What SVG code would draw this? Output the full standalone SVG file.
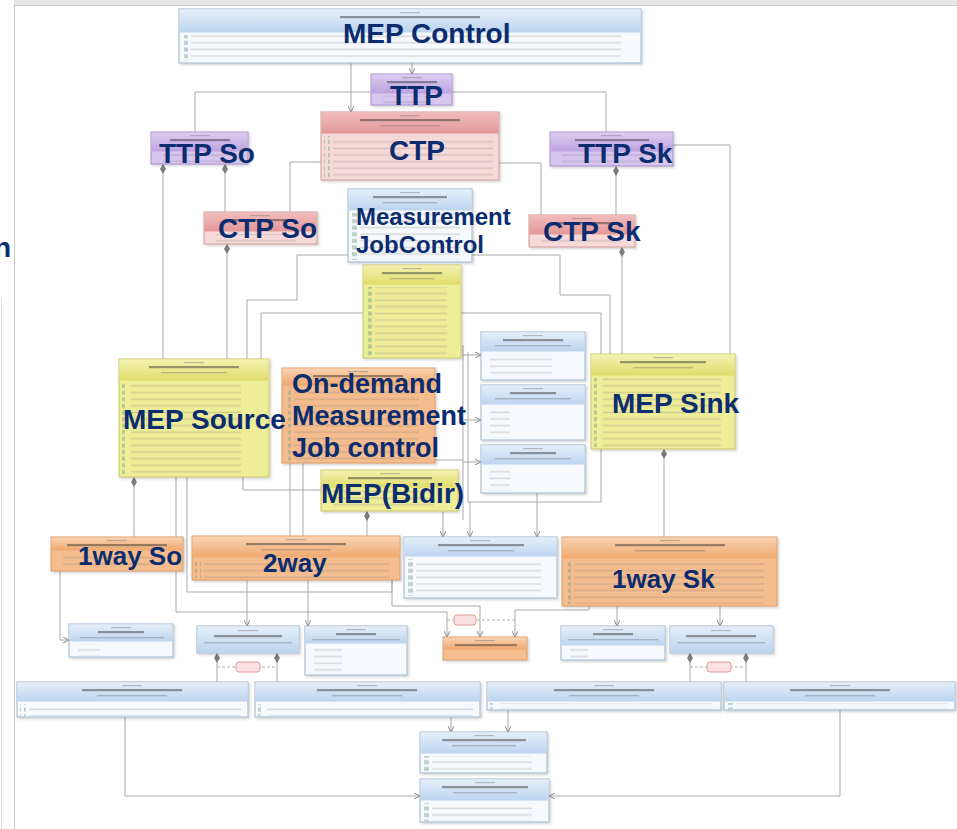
<svg xmlns="http://www.w3.org/2000/svg" width="957" height="829" viewBox="0 0 957 829">
<defs>
<style>
.lbl{font-family:"Liberation Sans",Arial,sans-serif;font-weight:bold;font-size:28px;fill:#0b2c6e}
.con{fill:none;stroke:#a9a9a9;stroke-width:1}
.dash{fill:none;stroke:#b0b0b0;stroke-width:1;stroke-dasharray:3 2}
.blue{fill:#f6f9fd;stroke:#9db3cc}
.purple{fill:#d6c5ee;stroke:#a58cc8}
.pink{fill:#f6dada;stroke:#cf9a9a}
.yellow{fill:#eeed98;stroke:#c9c56a}
.orange{fill:#f5bd8e;stroke:#d99a66}
.st{fill:#7a7a7a;opacity:.45}
.nm{fill:#2a2a2a;opacity:.45}
.fr{fill:#666;opacity:.35}
.tag{fill:#fbe1e1;stroke:#e59a9a}
#nodes rect:first-child{filter:url(#sh)}
</style>
<filter id="sh" x="-5%" y="-5%" width="115%" height="125%"><feDropShadow dx="1.5" dy="1.5" stdDeviation="1" flood-color="#000" flood-opacity=".18"/></filter>
<linearGradient id="gBlue" x1="0" y1="0" x2="0" y2="1"><stop offset="0" stop-color="#e4effa"/><stop offset="1" stop-color="#bcd4ee"/></linearGradient>
<linearGradient id="gPurple" x1="0" y1="0" x2="0" y2="1"><stop offset="0" stop-color="#dccdf0"/><stop offset="1" stop-color="#bda2e0"/></linearGradient>
<linearGradient id="gPink" x1="0" y1="0" x2="0" y2="1"><stop offset="0" stop-color="#f2bcbc"/><stop offset="1" stop-color="#e29797"/></linearGradient>
<linearGradient id="gYellow" x1="0" y1="0" x2="0" y2="1"><stop offset="0" stop-color="#f3f2b0"/><stop offset="1" stop-color="#e0dc6c"/></linearGradient>
<linearGradient id="gOrange" x1="0" y1="0" x2="0" y2="1"><stop offset="0" stop-color="#f8d3b2"/><stop offset="1" stop-color="#efa86e"/></linearGradient>
<pattern id="rows" width="400" height="6.6" patternUnits="userSpaceOnUse"><rect x="0" y="2.4" width="400" height="1.6" fill="#6e6e6e" opacity=".22"/></pattern>
<pattern id="ico" width="8" height="6.6" patternUnits="userSpaceOnUse"><rect x="0" y="1.3" width="5" height="4" fill="#6fa08a" opacity=".45"/></pattern>
<marker id="dia" markerUnits="userSpaceOnUse" markerWidth="10" markerHeight="6" refX="0" refY="3" orient="auto"><path d="M0,3 L5,0 L10,3 L5,6 Z" fill="#7d7d7d"/></marker>
<marker id="arr" markerUnits="userSpaceOnUse" markerWidth="7" markerHeight="6" refX="6" refY="3" orient="auto"><path d="M0,0 L6,3 L0,6" fill="none" stroke="#8a8a8a"/></marker>
</defs>

<rect x="0" y="0" width="957" height="829" fill="#ffffff"/>
<rect x="14" y="0" width="943" height="6" fill="#e6e6e6"/>
<rect x="14.5" y="5.5" width="950" height="830" fill="#ffffff" stroke="#c8c8c8"/>
<line x1="1.5" y1="298" x2="1.5" y2="829" stroke="#dcdcdc"/>
<text class="lbl" x="-6" y="257">n</text>

<g id="connectors">
<path class="con" d="M351 63 V112" marker-end="url(#arr)"/>
<path class="con" d="M412 63 V74" marker-end="url(#arr)"/>
<path class="con" d="M371 92 H195 V132"/>
<path class="con" d="M452 92 H606 V132"/>
<path class="con" d="M163 164 V359" marker-start="url(#dia)"/>
<path class="con" d="M225 164 V212" marker-start="url(#dia)"/>
<path class="con" d="M227 244 V359" marker-start="url(#dia)"/>
<path class="con" d="M321 162 H290 V212"/>
<path class="con" d="M499 163 H541 V215"/>
<path class="con" d="M616 166 V215" marker-start="url(#dia)"/>
<path class="con" d="M673 145 H730 V354"/>
<path class="con" d="M622 247 V354" marker-start="url(#dia)"/>
<path class="con" d="M472 255 H560 V295 H610 V354"/>
<path class="con" d="M348 255 H297 V300 H247 V359"/>
<path class="con" d="M363 313 H261 V359"/>
<path class="con" d="M461 313 H601 V502 H468 V352"/>
<path class="con" d="M463 345 V520"/>
<path class="con" d="M463 355 H481" marker-end="url(#arr)"/>
<path class="con" d="M463 420 H481" marker-end="url(#arr)"/>
<path class="con" d="M463 462 H481" marker-end="url(#arr)"/>
<path class="con" d="M435 460 H463"/>
<path class="con" d="M443 490 V537" marker-end="url(#arr)"/>
<path class="con" d="M470 502 V537" marker-end="url(#arr)"/>
<path class="con" d="M537 493 V537" marker-end="url(#arr)"/>
<path class="con" d="M134 477 V537" marker-start="url(#dia)"/>
<path class="con" d="M176 477 V612 H447 V637" marker-end="url(#arr)"/>
<path class="con" d="M187 477 V592 H392 V580"/>
<path class="con" d="M392 580 V606 H480 V637" marker-end="url(#arr)"/>
<path class="con" d="M243 477 V490 H321"/>
<path class="con" d="M290 463 V536"/>
<path class="con" d="M303 463 V536"/>
<path class="con" d="M367 511 V536" marker-start="url(#dia)"/>
<path class="con" d="M60 571 V640 H69" marker-end="url(#arr)"/>
<path class="con" d="M247 580 V626" marker-end="url(#arr)"/>
<path class="con" d="M308 580 V626" marker-end="url(#arr)"/>
<path class="con" d="M589 606 V610 H515 V637" marker-end="url(#arr)"/>
<path class="con" d="M617 606 V626" marker-end="url(#arr)"/>
<path class="con" d="M720 606 V626" marker-end="url(#arr)"/>
<path class="con" d="M664 449 V537" marker-start="url(#dia)"/>
<path class="con" d="M217 653 V682" marker-start="url(#dia)"/>
<path class="con" d="M277 653 V682" marker-start="url(#dia)"/>
<path class="dash" d="M217 667 H277"/>
<path class="con" d="M690 653 V682" marker-start="url(#dia)"/>
<path class="con" d="M746 653 V682" marker-start="url(#dia)"/>
<path class="dash" d="M690 667 H746"/>
<path class="dash" d="M447 620 H515"/>
<path class="con" d="M125 717 V796 H420" marker-end="url(#arr)"/>
<path class="con" d="M451 717 V732" marker-end="url(#arr)"/>
<path class="con" d="M508 710 V732" marker-end="url(#arr)"/>
<path class="con" d="M840 710 V796 H549" marker-end="url(#arr)"/>
<rect class="tag" x="236" y="662" width="24" height="10" rx="3"/>
<rect class="tag" x="707" y="662" width="24" height="10" rx="3"/>
<rect class="tag" x="454" y="615" width="22" height="10" rx="3"/>
</g>

<g id="nodes">
<g id="mep-control">
<rect class="blue" x="179" y="9" width="462" height="54"/>
<rect x="179.5" y="9.5" width="461" height="23" fill="url(#gBlue)"/>
<rect class="st" x="400" y="12" width="20" height="1.2"/>
<rect class="nm" x="340" y="16" width="140" height="2.2"/>
<rect x="182" y="35" width="6" height="26" fill="url(#ico)"/>
<rect x="191" y="35" width="430" height="26" fill="url(#rows)"/>
<text class="lbl" x="343" y="43">MEP Control</text>
</g>

<g id="ttp">
<rect class="purple" x="371" y="74" width="81" height="31"/>
<rect x="371.5" y="74.5" width="80" height="19" fill="url(#gPurple)"/>
<rect class="st" x="402" y="77" width="20" height="1.2"/>
<rect class="nm" x="387" y="81" width="50" height="2.2"/>
<rect x="383" y="96" width="50" height="8" fill="url(#rows)"/>
<text class="lbl" x="390" y="105">TTP</text>
</g>

<g id="ctp">
<rect class="pink" x="321" y="112" width="178" height="68"/>
<rect x="321.5" y="112.5" width="177" height="21" fill="url(#gPink)"/>
<rect class="st" x="400" y="115" width="20" height="1.2"/>
<rect class="nm" x="360" y="119" width="100" height="2.2"/>
<rect class="fr" x="380" y="125" width="60" height="1.4"/>
<rect x="324" y="136" width="6" height="42" fill="url(#ico)"/>
<rect x="333" y="136" width="160" height="42" fill="url(#rows)"/>
<text class="lbl" x="389" y="160">CTP</text>
</g>

<g id="ttp-so">
<rect class="purple" x="151" y="132" width="97" height="32"/>
<rect x="151.5" y="132.5" width="96" height="19" fill="url(#gPurple)"/>
<rect class="st" x="190" y="135" width="20" height="1.2"/>
<rect class="nm" x="170" y="139" width="60" height="2.2"/>
<rect x="163" y="154" width="70" height="8" fill="url(#rows)"/>
<text class="lbl" x="159" y="163">TTP So</text>
</g>

<g id="ttp-sk">
<rect class="purple" x="550" y="132" width="123" height="34"/>
<rect x="550.5" y="132.5" width="122" height="19" fill="url(#gPurple)"/>
<rect class="st" x="601" y="135" width="20" height="1.2"/>
<rect class="nm" x="575" y="139" width="74" height="2.2"/>
<rect x="562" y="154" width="95" height="10" fill="url(#rows)"/>
<text class="lbl" x="578" y="163">TTP Sk</text>
</g>

<g id="ctp-so">
<rect class="pink" x="204" y="212" width="113" height="32"/>
<rect x="204.5" y="212.5" width="112" height="19" fill="url(#gPink)"/>
<rect class="st" x="250" y="215" width="20" height="1.2"/>
<rect class="nm" x="226" y="219" width="68" height="2.2"/>
<rect x="216" y="234" width="80" height="8" fill="url(#rows)"/>
<text class="lbl" x="218" y="238">CTP So</text>
</g>

<g id="ctp-sk">
<rect class="pink" x="529" y="215" width="106" height="32"/>
<rect x="529.5" y="215.5" width="105" height="19" fill="url(#gPink)"/>
<rect class="st" x="572" y="218" width="20" height="1.2"/>
<rect class="nm" x="550" y="222" width="64" height="2.2"/>
<rect x="541" y="237" width="80" height="8" fill="url(#rows)"/>
<text class="lbl" x="543" y="241">CTP Sk</text>
</g>

<g id="measurement-job-control">
<rect class="blue" x="348" y="189" width="124" height="73"/>
<rect x="348.5" y="189.5" width="123" height="21" fill="url(#gBlue)"/>
<rect class="st" x="400" y="192" width="20" height="1.2"/>
<rect class="nm" x="373" y="196" width="74" height="2.2"/>
<rect class="fr" x="383" y="202" width="54" height="1.4"/>
<rect x="351" y="213" width="6" height="47" fill="url(#ico)"/>
<rect x="360" y="213" width="100" height="47" fill="url(#rows)"/>
<text class="lbl" x="356" y="225" style="font-size:24px">Measurement</text>
<text class="lbl" x="356" y="253" style="font-size:24px">JobControl</text>
</g>

<g id="meg-end-point">
<rect class="yellow" x="363" y="265" width="98" height="93"/>
<rect x="363.5" y="265.5" width="97" height="19" fill="url(#gYellow)"/>
<rect class="st" x="402" y="268" width="20" height="1.2"/>
<rect class="nm" x="382" y="272" width="60" height="2.2"/>
<rect class="fr" x="390" y="278" width="44" height="1.4"/>
<rect x="366" y="287" width="6" height="69" fill="url(#ico)"/>
<rect x="375" y="287" width="72" height="69" fill="url(#rows)"/>
</g>

<g id="on-demand-job-control">
<rect class="orange" x="282" y="368" width="153" height="95"/>
<rect x="282.5" y="368.5" width="152" height="17" fill="url(#gOrange)"/>
<rect class="st" x="348" y="371" width="20" height="1.2"/>
<rect class="nm" x="313" y="375" width="90" height="2.2"/>
<rect x="285" y="388" width="6" height="73" fill="url(#ico)"/>
<rect x="294" y="388" width="125" height="73" fill="url(#rows)"/>
<text class="lbl" x="292" y="393" style="font-size:27px">On-demand</text>
<text class="lbl" x="292" y="425" style="font-size:27px">Measurement</text>
<text class="lbl" x="292" y="457" style="font-size:27px">Job control</text>
</g>

<g id="mep-source">
<rect class="yellow" x="119" y="359" width="150" height="118"/>
<rect x="119.5" y="359.5" width="149" height="21" fill="url(#gYellow)"/>
<rect class="st" x="184" y="362" width="20" height="1.2"/>
<rect class="nm" x="149" y="366" width="90" height="2.2"/>
<rect class="fr" x="161" y="372" width="66" height="1.4"/>
<rect x="122" y="383" width="6" height="92" fill="url(#ico)"/>
<rect x="131" y="383" width="110" height="92" fill="url(#rows)"/>
<text class="lbl" x="123" y="429">MEP Source</text>
</g>

<g id="mep-bidir">
<rect class="yellow" x="321" y="470" width="137" height="41"/>
<rect x="321.5" y="470.5" width="136" height="17" fill="url(#gYellow)"/>
<rect class="st" x="380" y="473" width="20" height="1.2"/>
<rect class="nm" x="348" y="477" width="84" height="2.2"/>
<rect x="333" y="490" width="100" height="19" fill="url(#rows)"/>
<text class="lbl" x="321" y="503">MEP(Bidir)</text>
</g>

<g id="enum-1">
<rect class="blue" x="481" y="332" width="104" height="48"/>
<rect x="481.5" y="332.5" width="103" height="19" fill="url(#gBlue)"/>
<rect class="st" x="523" y="335" width="20" height="1.2"/>
<rect class="nm" x="503" y="339" width="60" height="2.2"/>
<rect class="fr" x="495" y="345" width="76" height="1.4"/>
<rect x="490" y="354" width="62" height="24" fill="url(#rows)"/>
</g>

<g id="enum-2">
<rect class="blue" x="481" y="385" width="104" height="55"/>
<rect x="481.5" y="385.5" width="103" height="19" fill="url(#gBlue)"/>
<rect class="st" x="523" y="388" width="20" height="1.2"/>
<rect class="nm" x="510" y="392" width="46" height="2.2"/>
<rect class="fr" x="495" y="398" width="76" height="1.4"/>
<rect x="490" y="407" width="20" height="31" fill="url(#rows)"/>
</g>

<g id="enum-3">
<rect class="blue" x="481" y="445" width="104" height="48"/>
<rect x="481.5" y="445.5" width="103" height="19" fill="url(#gBlue)"/>
<rect class="st" x="523" y="448" width="20" height="1.2"/>
<rect class="nm" x="510" y="452" width="46" height="2.2"/>
<rect class="fr" x="495" y="458" width="76" height="1.4"/>
<rect x="490" y="467" width="20" height="24" fill="url(#rows)"/>
</g>

<g id="mep-sink">
<rect class="yellow" x="591" y="354" width="144" height="95"/>
<rect x="591.5" y="354.5" width="143" height="21" fill="url(#gYellow)"/>
<rect class="st" x="653" y="357" width="20" height="1.2"/>
<rect class="nm" x="620" y="361" width="86" height="2.2"/>
<rect class="fr" x="633" y="367" width="60" height="1.4"/>
<rect x="594" y="378" width="6" height="69" fill="url(#ico)"/>
<rect x="603" y="378" width="118" height="69" fill="url(#rows)"/>
<text class="lbl" x="612" y="413">MEP Sink</text>
</g>

<g id="oneway-so">
<rect class="orange" x="51" y="537" width="132" height="34"/>
<rect x="51.5" y="537.5" width="131" height="13" fill="url(#gOrange)"/>
<rect class="st" x="107" y="540" width="20" height="1.2"/>
<rect class="nm" x="67" y="544" width="100" height="2.2"/>
<rect x="63" y="553" width="100" height="16" fill="url(#rows)"/>
<text class="lbl" x="78" y="565" style="font-size:26px">1way So</text>
</g>

<g id="twoway">
<rect class="orange" x="192" y="536" width="208" height="44"/>
<rect x="192.5" y="536.5" width="207" height="21" fill="url(#gOrange)"/>
<rect class="st" x="286" y="539" width="20" height="1.2"/>
<rect class="nm" x="246" y="543" width="100" height="2.2"/>
<rect class="fr" x="261" y="549" width="70" height="1.4"/>
<rect x="195" y="560" width="6" height="18" fill="url(#ico)"/>
<rect x="204" y="560" width="185" height="18" fill="url(#rows)"/>
<text class="lbl" x="263" y="572" style="font-size:26px">2way</text>
</g>

<g id="datatype-1">
<rect class="blue" x="404" y="537" width="153" height="61"/>
<rect x="404.5" y="537.5" width="152" height="19" fill="url(#gBlue)"/>
<rect class="st" x="470" y="540" width="20" height="1.2"/>
<rect class="nm" x="438" y="544" width="86" height="2.2"/>
<rect class="fr" x="448" y="550" width="66" height="1.4"/>
<rect x="407" y="559" width="6" height="37" fill="url(#ico)"/>
<rect x="416" y="559" width="125" height="37" fill="url(#rows)"/>
</g>

<g id="oneway-sk">
<rect class="orange" x="562" y="537" width="215" height="69"/>
<rect x="562.5" y="537.5" width="214" height="21" fill="url(#gOrange)"/>
<rect class="st" x="660" y="540" width="20" height="1.2"/>
<rect class="nm" x="615" y="544" width="110" height="2.2"/>
<rect class="fr" x="635" y="550" width="70" height="1.4"/>
<rect x="565" y="561" width="6" height="43" fill="url(#ico)"/>
<rect x="574" y="561" width="190" height="43" fill="url(#rows)"/>
<text class="lbl" x="612" y="588" style="font-size:26px">1way Sk</text>
</g>

<g id="enum-a">
<rect class="blue" x="69" y="624" width="104" height="33"/>
<rect x="69.5" y="624.5" width="103" height="17" fill="url(#gBlue)"/>
<rect class="st" x="111" y="627" width="20" height="1.2"/>
<rect class="nm" x="98" y="631" width="46" height="2.2"/>
<rect class="fr" x="80" y="637" width="84" height="1.4"/>
<rect x="78" y="644" width="22" height="12" fill="url(#rows)"/>
</g>

<g id="datatype-b">
<rect class="blue" x="197" y="626" width="102" height="27"/>
<rect x="197.5" y="626.5" width="101" height="26" fill="url(#gBlue)"/>
<rect class="st" x="238" y="630" width="20" height="1.2"/>
<rect class="nm" x="214" y="635" width="68" height="2.2"/>
<rect class="fr" x="204" y="642" width="88" height="1.4"/>
</g>

<g id="enum-c">
<rect class="blue" x="305" y="626" width="102" height="49"/>
<rect x="305.5" y="626.5" width="101" height="17" fill="url(#gBlue)"/>
<rect class="st" x="346" y="629" width="20" height="1.2"/>
<rect class="nm" x="336" y="633" width="40" height="2.2"/>
<rect class="fr" x="312" y="639" width="88" height="1.4"/>
<rect x="314" y="646" width="28" height="27" fill="url(#rows)"/>
</g>

<g id="on-demand-job">
<rect class="orange" x="443" y="637" width="84" height="23"/>
<rect x="443.5" y="637.5" width="83" height="12" fill="url(#gOrange)"/>
<rect class="st" x="475" y="640" width="20" height="1.2"/>
<rect class="nm" x="455" y="644" width="62" height="2.2"/>
</g>

<g id="enum-d">
<rect class="blue" x="561" y="626" width="104" height="34"/>
<rect x="561.5" y="626.5" width="103" height="19" fill="url(#gBlue)"/>
<rect class="st" x="603" y="629" width="20" height="1.2"/>
<rect class="nm" x="593" y="633" width="40" height="2.2"/>
<rect class="fr" x="568" y="639" width="90" height="1.4"/>
<rect x="570" y="648" width="18" height="10" fill="url(#rows)"/>
</g>

<g id="datatype-e">
<rect class="blue" x="670" y="626" width="103" height="27"/>
<rect x="670.5" y="626.5" width="102" height="26" fill="url(#gBlue)"/>
<rect class="st" x="711" y="630" width="20" height="1.2"/>
<rect class="nm" x="686" y="635" width="70" height="2.2"/>
<rect class="fr" x="677" y="642" width="88" height="1.4"/>
</g>

<g id="long-1">
<rect class="blue" x="17" y="682" width="231" height="35"/>
<rect x="17.5" y="682.5" width="230" height="19" fill="url(#gBlue)"/>
<rect class="st" x="122" y="685" width="20" height="1.2"/>
<rect class="nm" x="82" y="689" width="100" height="2.2"/>
<rect class="fr" x="97" y="695" width="70" height="1.4"/>
<rect x="20" y="704" width="6" height="12" fill="url(#ico)"/>
<rect x="29" y="704" width="212" height="12" fill="url(#rows)"/>
</g>

<g id="long-2">
<rect class="blue" x="255" y="682" width="225" height="35"/>
<rect x="255.5" y="682.5" width="224" height="19" fill="url(#gBlue)"/>
<rect class="st" x="357" y="685" width="20" height="1.2"/>
<rect class="nm" x="317" y="689" width="100" height="2.2"/>
<rect class="fr" x="332" y="695" width="70" height="1.4"/>
<rect x="258" y="704" width="6" height="12" fill="url(#ico)"/>
<rect x="267" y="704" width="206" height="12" fill="url(#rows)"/>
</g>

<g id="long-3">
<rect class="blue" x="487" y="682" width="234" height="28"/>
<rect x="487.5" y="682.5" width="233" height="19" fill="url(#gBlue)"/>
<rect class="st" x="594" y="685" width="20" height="1.2"/>
<rect class="nm" x="554" y="689" width="100" height="2.2"/>
<rect class="fr" x="569" y="695" width="70" height="1.4"/>
<rect x="490" y="703" width="6" height="6" fill="url(#ico)"/>
<rect x="499" y="703" width="214" height="6" fill="url(#rows)"/>
</g>

<g id="long-4">
<rect class="blue" x="724" y="682" width="231" height="28"/>
<rect x="724.5" y="682.5" width="230" height="19" fill="url(#gBlue)"/>
<rect class="st" x="830" y="685" width="20" height="1.2"/>
<rect class="nm" x="790" y="689" width="100" height="2.2"/>
<rect class="fr" x="805" y="695" width="70" height="1.4"/>
<rect x="727" y="703" width="6" height="6" fill="url(#ico)"/>
<rect x="736" y="703" width="212" height="6" fill="url(#rows)"/>
</g>

<g id="params-a">
<rect class="blue" x="420" y="732" width="127" height="41"/>
<rect x="420.5" y="732.5" width="126" height="21" fill="url(#gBlue)"/>
<rect class="st" x="474" y="735" width="20" height="1.2"/>
<rect class="nm" x="442" y="739" width="84" height="2.2"/>
<rect class="fr" x="452" y="745" width="64" height="1.4"/>
<rect x="423" y="756" width="6" height="16" fill="url(#ico)"/>
<rect x="432" y="756" width="100" height="16" fill="url(#rows)"/>
</g>

<g id="params-b">
<rect class="blue" x="420" y="779" width="129" height="43"/>
<rect x="420.5" y="779.5" width="128" height="21" fill="url(#gBlue)"/>
<rect class="st" x="475" y="782" width="20" height="1.2"/>
<rect class="nm" x="442" y="786" width="86" height="2.2"/>
<rect class="fr" x="453" y="792" width="64" height="1.4"/>
<rect x="423" y="803" width="6" height="18" fill="url(#ico)"/>
<rect x="432" y="803" width="100" height="18" fill="url(#rows)"/>
</g>
</g>
</svg>
